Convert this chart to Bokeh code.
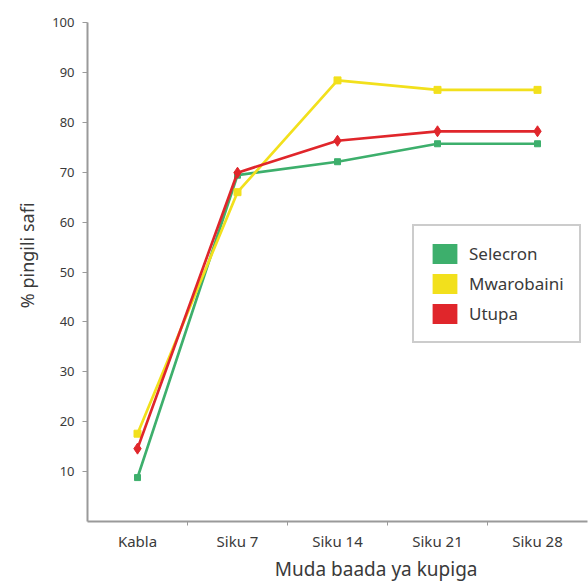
import math
from bokeh.plotting import figure
from bokeh.models import (Range1d, FixedTicker, Legend, LegendItem, Title, ColumnDataSource)
from bokeh.embed import file_html
from bokeh.resources import INLINE

categories = ["Kabla", "Siku 7", "Siku 14", "Siku 21", "Siku 28"]
selecron = [8.8, 69.4, 72.1, 75.7, 75.7]
mwarobaini = [17.6, 66.0, 88.4, 86.5, 86.5]
utupa = [14.6, 69.9, 76.3, 78.2, 78.2]
y_ticks = [10, 20, 30, 40, 50, 60, 70, 80, 90, 100]
y_label = "% pingili safi"
x_label = "Muda baada ya kupiga"

GREEN = "#3daf6c"
YELLOW = "#f2e01c"
RED = "#e0262b"
AXIS = "#9a9a9a"
TEXT = "#3a3a3a"
FONT = "Noto Sans"

xs = [i + 0.5 for i in range(len(categories))]

p = figure(width=588, height=582, output_backend="svg", toolbar_location=None,
           x_range=Range1d(0, len(categories)), y_range=Range1d(0, 100),
           min_border_left=87, min_border_right=1, min_border_top=22, min_border_bottom=60)
p.outline_line_color = None
p.xgrid.visible = False
p.ygrid.visible = False

# axes
p.xaxis.ticker = FixedTicker(ticks=xs, minor_ticks=[1, 2, 3, 4])
p.xaxis.major_label_overrides = {x: c for x, c in zip(xs, categories)}
p.xaxis.major_tick_out = 0
p.xaxis.major_tick_in = 0
p.xaxis.minor_tick_out = 4
p.xaxis.minor_tick_in = 0
p.xaxis.minor_tick_line_color = AXIS
p.xaxis.axis_line_color = AXIS
p.xaxis.axis_line_width = 2
p.xaxis.major_label_text_font = FONT
p.xaxis.major_label_text_font_size = "15px"
p.xaxis.major_label_text_color = TEXT
p.xaxis.major_label_standoff = 5

p.yaxis.ticker = FixedTicker(ticks=y_ticks, minor_ticks=[])
p.yaxis.major_tick_out = 5
p.yaxis.major_tick_in = 0
p.yaxis.major_tick_line_color = AXIS
p.yaxis.axis_line_color = AXIS
p.yaxis.axis_line_width = 2
p.yaxis.major_label_text_font = FONT
p.yaxis.major_label_text_font_size = "13px"
p.yaxis.major_label_text_color = TEXT
p.yaxis.major_label_standoff = 8

src = ColumnDataSource(dict(x=xs, s=selecron, m=mwarobaini, u=utupa))

p.line("x", "s", source=src, line_color=GREEN, line_width=2.7)
p.scatter("x", "s", source=src, marker="square", size=6, color=GREEN)
p.line("x", "m", source=src, line_color=YELLOW, line_width=2.7)
p.scatter("x", "m", source=src, marker="square", size=7, color=YELLOW)
p.line("x", "u", source=src, line_color=RED, line_width=2.7)
p.scatter("x", "u", source=src, marker="diamond", size=11, color=RED)

# legend swatches (renderers with no drawable data)
nan = float("nan")
empty = ColumnDataSource(dict(l=[nan], r=[nan], t=[nan], b=[nan]))
g1 = p.quad(left="l", right="r", top="t", bottom="b", source=empty, fill_color=GREEN, line_color=None)
g2 = p.quad(left="l", right="r", top="t", bottom="b", source=empty, fill_color=YELLOW, line_color=None)
g3 = p.quad(left="l", right="r", top="t", bottom="b", source=empty, fill_color=RED, line_color=None)
legend = Legend(items=[LegendItem(label="Selecron", renderers=[g1]),
                       LegendItem(label="Mwarobaini", renderers=[g2]),
                       LegendItem(label="Utupa", renderers=[g3])],
                location=(325, 178), glyph_width=31, glyph_height=25, spacing=5,
                padding=15, margin=0, label_standoff=9,
                label_text_font=FONT, label_text_font_size="17px", label_text_color=TEXT,
                border_line_color=AXIS, border_line_width=2, background_fill_alpha=1)
p.add_layout(legend, "center")

p.add_layout(Title(text=x_label, align="right", offset=110, standoff=1,
                   text_font=FONT, text_font_size="19px", text_color=TEXT,
                   text_font_style="normal"), "below")
p.add_layout(Title(text=y_label, align="right", offset=180, standoff=22,
                   text_font=FONT, text_font_size="18px", text_color=TEXT,
                   text_font_style="normal"), "left")

open("out.html", "w").write(file_html(p, INLINE))
